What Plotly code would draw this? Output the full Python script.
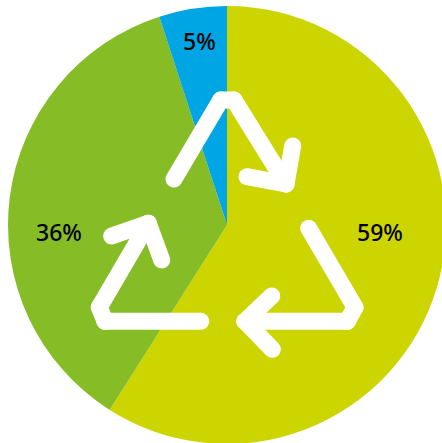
import math
import plotly.graph_objects as go

# Share of each stream, clockwise from twelve o'clock
labels = ["Yellow stream", "Green stream", "Blue stream"]
values = [59, 36, 5]
colors = ["#CDD500", "#86BC25", "#00A5E3"]
label_pos = [(380, 232.5), (59, 232.5), (199, 41.5)]

FIG_W, FIG_H = 454, 450
MARGIN_X, MARGIN_Y = 8, 6
PLOT_W = FIG_W - 2 * MARGIN_X
PLOT_H = FIG_H - 2 * MARGIN_Y
STROKE = 17

# Recycling symbol: three bent arrows, each a shaft polyline plus two head barbs
arrow_top = [[(174, 179), (220.7, 100), (234, 100), (286, 184)],
             [(247, 176.7), (286, 184)], [(292.7, 146), (286, 184)]]
arrow_right = [[(308.7, 228.3), (355, 307.3), (347.3, 321.3), (245, 321.3)],
               [(271.7, 296), (245, 321.3)], [(272.3, 349.3), (245, 321.3)]]
arrow_left = [[(200.7, 321.3), (105, 321.3), (99.3, 307.3), (148.3, 223.3)],
              [(111.7, 236), (148.3, 223.3)], [(161.7, 260), (148.3, 223.3)]]


def to_paper(px, py):
    return (px - MARGIN_X) / PLOT_W, 1 - (py - MARGIN_Y) / PLOT_H


def capsule_path(p, q, width):
    # Closed outline of a round-ended stroke between two points
    r = width / 2
    ang = math.atan2(q[1] - p[1], q[0] - p[0])
    pts = []
    for i in range(13):
        a = ang + math.pi / 2 + math.pi * i / 12
        pts.append((p[0] + r * math.cos(a), p[1] + r * math.sin(a)))
    for i in range(13):
        a = ang - math.pi / 2 + math.pi * i / 12
        pts.append((q[0] + r * math.cos(a), q[1] + r * math.sin(a)))
    coords = [to_paper(*pt) for pt in pts]
    return "M " + " L ".join(f"{x:.5f} {y:.5f}" for x, y in coords) + " Z"


shapes = []
for arrow in (arrow_top, arrow_right, arrow_left):
    for polyline in arrow:
        for a, b in zip(polyline, polyline[1:]):
            shapes.append(dict(type="path", xref="paper", yref="paper",
                               path=capsule_path(a, b, STROKE),
                               fillcolor="white", line=dict(width=0), layer="above"))

annotations = []
for v, (px, py) in zip(values, label_pos):
    x, y = to_paper(px, py)
    annotations.append(dict(x=x, y=y, xref="paper", yref="paper", text=f"{v}%",
                            showarrow=False, xanchor="center", yanchor="middle",
                            font=dict(family="Noto Sans", size=23, color="#000000", weight=500)))

fig = go.Figure(go.Pie(labels=labels, values=values, sort=False, direction="clockwise",
                       rotation=0, textinfo="none", hoverinfo="label+percent",
                       marker=dict(colors=colors, line=dict(width=0)),
                       domain=dict(x=[0, 1], y=[0, 1])))
fig.update_layout(width=FIG_W, height=FIG_H, autosize=False, showlegend=False,
                  margin=dict(l=MARGIN_X, r=MARGIN_X, t=MARGIN_Y, b=MARGIN_Y),
                  paper_bgcolor="white", plot_bgcolor="white",
                  shapes=shapes, annotations=annotations)
fig.write_html("out.html", config=dict(displayModeBar=False),
               post_script="document.documentElement.style.overflow='hidden';document.body.style.overflow='hidden';document.body.style.margin='0';")
